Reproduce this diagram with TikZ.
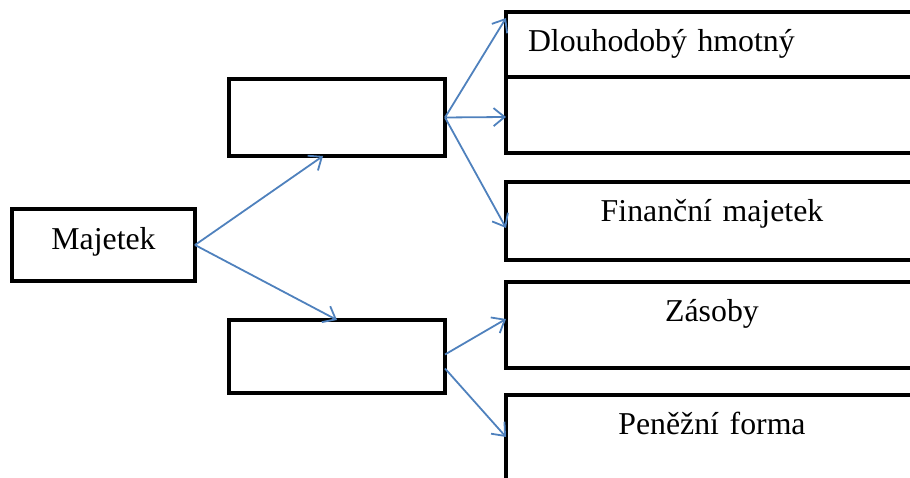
\documentclass[tikz,border=0pt]{standalone}
\usepackage{fontspec}
\setmainfont{Liberation Serif}
\usetikzlibrary{arrows.meta,positioning}
\definecolor{pilblue}{RGB}{79,129,189}
\tikzset{
    %Define standard arrow tip
    >={Straight Barb[length=11pt,width=18pt]},
    %Define style for boxes
    box/.style={
           rectangle,
           draw=black, line width=4.5pt,
           outer sep=0pt, inner ysep=0pt,
           font=\fontsize{31.8}{38}\selectfont,
           text height=40pt},
    rbox/.style={
           box, anchor=north west,
           inner xsep=0pt,
           text width=412pt,
           align=center},
    % Define arrow style
    pil/.style={
           ->,
           draw=pilblue,
           line width=1.8pt}
}
\begin{document}
\begin{tikzpicture}[x=1pt,y=1pt]
\useasboundingbox (0,0) rectangle (910,478);
\node[box, anchor=north west, minimum width=183pt, text height=41pt, text depth=31pt] (maj) at (12,269) {Majetek};
\node[box, anchor=north west, minimum width=216pt, minimum height=77pt] (um) at (229,399) {};
\node[box, anchor=north west, minimum width=216pt, minimum height=73pt] (lm) at (229,158) {};

\node[rbox, inner xsep=22pt, text width=368pt, align=left, text depth=25pt] (hm) at (506,466) {Dlouhodobý hmotný};
\node[rbox, below=0pt of hm, minimum height=76pt] (nh) {};
\node[rbox, text depth=38pt] (fin) at (506,296) {Finanční majetek};
\node[rbox, text depth=46pt] (zas) at (506,196) {Zásoby};
\node[rbox, text depth=50pt] (pen) at (506,83) {Peněžní forma};

\draw[pil] (maj.east) -- ([xshift=-14pt]um.south);
\draw[pil] (maj.east) -- (lm.north);
\draw[pil] (um.east) -- ([yshift=-6pt]hm.north west);
\draw[pil] (um.east) -- ([yshift=-2pt]nh.west);
\draw[pil] (um.east) -- ([yshift=-7pt]fin.west);
\draw[pil] ([yshift=2pt]lm.east) -- ([yshift=6pt]zas.west);
\draw[pil] ([yshift=-12pt]lm.east) -- ([yshift=3pt]pen.west);
\end{tikzpicture}
\end{document}
